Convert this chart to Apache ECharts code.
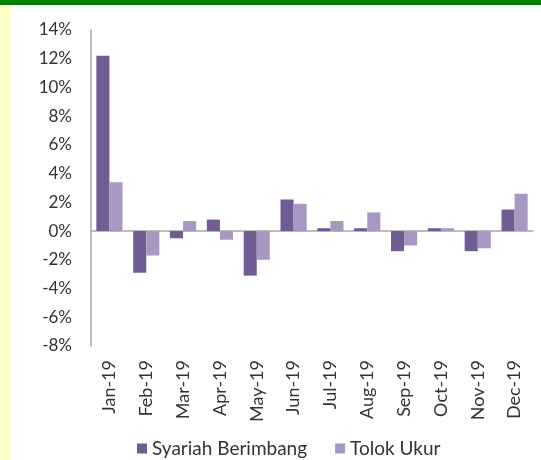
<!DOCTYPE html>
<html>
<head>
<meta charset="utf-8">
<script src="https://cdn.jsdelivr.net/npm/echarts@6/dist/echarts.min.js"></script>
<style>html,body{margin:0;padding:0;background:#fff;}#c{width:541px;height:460px;}</style>
</head>
<body>
<div id="c"></div>
<script>
var categories = ['Jan-19','Feb-19','Mar-19','Apr-19','May-19','Jun-19','Jul-19','Aug-19','Sep-19','Oct-19','Nov-19','Dec-19'];
var syariahBerimbang = [12.2, -2.9, -0.5, 0.8, -3.1, 2.2, 0.2, 0.2, -1.4, 0.2, -1.4, 1.5];
var tolokUkur = [3.4, -1.7, 0.7, -0.6, -2.0, 1.9, 0.7, 1.3, -1.0, 0.2, -1.2, 2.6];
var seriesNames = ['Syariah Berimbang', 'Tolok Ukur'];

var FONT = 'Lato';
var chart = echarts.init(document.getElementById('c'), null, {renderer: 'canvas'});
chart.setOption({
  backgroundColor: '#ffffff',
  animation: false,
  graphic: [
    {type: 'rect', shape: {x: 0, y: 0, width: 541, height: 5}, style: {fill: '#008000'}, z: 100},
    {type: 'rect', shape: {x: 0, y: 5, width: 11, height: 455}, style: {fill: '#FFFFCC'}, z: 100}
  ],
  grid: {left: 91, right: 8, top: 30, bottom: 114, containLabel: false},
  legend: {
    data: seriesNames,
    top: 434,
    left: 132,
    icon: 'rect',
    itemWidth: 10,
    itemHeight: 10,
    itemGap: 28,
    textStyle: {fontFamily: FONT, fontSize: 19, color: '#333333'}
  },
  xAxis: [{
    type: 'category',
    data: categories,
    position: 'bottom',
    axisLine: {show: false, onZero: false},
    axisTick: {show: false},
    axisLabel: {rotate: 90, margin: 14, fontFamily: FONT, fontSize: 18, color: '#333333', interval: 0}
  }, {
    type: 'category',
    data: categories,
    position: 'top',
    axisLine: {show: true, onZero: true, lineStyle: {color: '#A6A6A6', width: 1.5}},
    axisTick: {show: false},
    axisLabel: {show: false}
  }],
  yAxis: {
    type: 'value',
    min: -8, max: 14, interval: 2,
    axisLine: {show: true, lineStyle: {color: '#A6A6A6', width: 1.5}},
    axisTick: {show: false},
    splitLine: {show: false},
    axisLabel: {formatter: '{value}%', margin: 19, fontFamily: FONT, fontSize: 17, color: '#333333'}
  },
  series: [{
    name: seriesNames[0],
    type: 'bar',
    data: syariahBerimbang,
    barGap: '0%',
    barCategoryGap: '29%',
    itemStyle: {color: '#705B93'}
  }, {
    name: seriesNames[1],
    type: 'bar',
    data: tolokUkur,
    barGap: '0%',
    barCategoryGap: '29%',
    itemStyle: {color: '#A898C1'}
  }]
});
</script>
</body>
</html>
